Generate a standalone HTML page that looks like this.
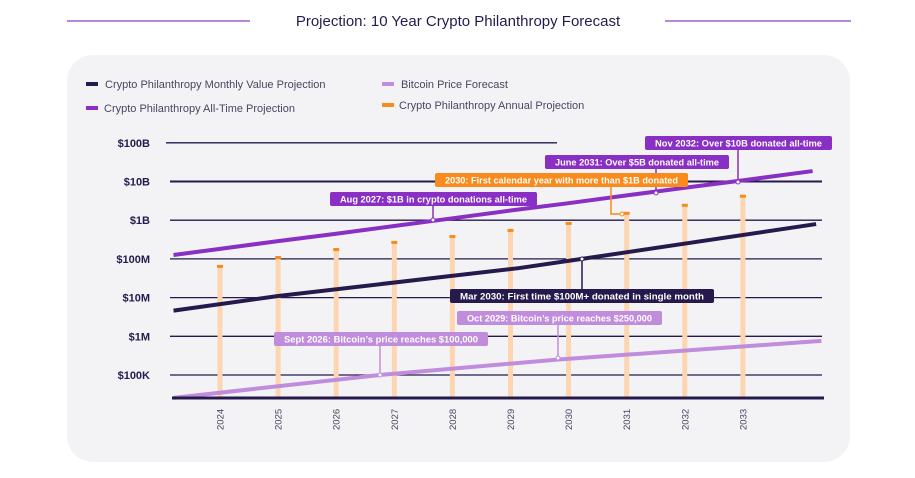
<!DOCTYPE html>
<html><head><meta charset="utf-8"><style>
html,body{margin:0;padding:0;background:#fff;}
svg{display:block;font-family:"Liberation Sans",sans-serif;}
</style></head><body>
<svg id="chart" width="915" height="478" viewBox="0 0 915 478">
<line x1="67" y1="21" x2="250" y2="21" stroke="#8a3fbf" stroke-width="1.3"/>
<line x1="665" y1="21" x2="851" y2="21" stroke="#8a3fbf" stroke-width="1.3"/>
<text x="458" y="26" text-anchor="middle" font-size="15" fill="#261a4c">Projection: 10 Year Crypto Philanthropy Forecast</text>
<rect x="67" y="55" width="783" height="407" rx="26" fill="#f3f3f6"/>
<g font-size="11" fill="#4a4560">
 <g><rect x="86" y="82" width="12" height="4" fill="#261a4c"/><text x="105" y="88">Crypto Philanthropy Monthly Value Projection</text></g>
 <g><rect x="86" y="106" width="12" height="4" fill="#8a2fc4"/><text x="104" y="112">Crypto Philanthropy All-Time Projection</text></g>
 <g><rect x="382" y="82" width="12" height="4" fill="#c08ddc"/><text x="401" y="88">Bitcoin Price Forecast</text></g>
 <g><rect x="382" y="103" width="12" height="4" fill="#f98b1c"/><text x="399" y="109">Crypto Philanthropy Annual Projection</text></g>
</g>
<g id="grid"></g><g id="bars"></g><g id="lines"></g><g id="ann"></g><g id="axes"></g>
</svg>
<script>
const yTickValues=[1e5,1e6,1e7,1e8,1e9,1e10,1e11];
const yTickLabels=["$100K","$1M","$10M","$100M","$1B","$10B","$100B"];
const years=[2024,2025,2026,2027,2028,2029,2030,2031,2032,2033];
const annualValues=[66e6,112e6,180e6,275e6,390e6,560e6,850e6,1.55e9,2.5e9,4.3e9];
const allTimeX=[2023.2,2024,2025,2026,2027,2028,2029,2030,2031,2032,2033,2034.2];
const allTimeValues=[126e6,182e6,288e6,447e6,708e6,1.12e9,1.78e9,2.75e9,4.37e9,6.9e9,10.7e9,18.6e9];
const monthlyX=[2023.2,2025,2029.15,2030.23,2034.26];
const monthlyValues=[4.6e6,11e6,58e6,100e6,794e6];
const btcX=[2023.2,2026.75,2029.8,2034.35];
const btcValues=[25.7e3,100e3,250e3,760e3];

const NS="http://www.w3.org/2000/svg";
const X=y=>220+(y-2024)*58.1;
const Y=v=>375-(Math.log10(v)-5)*38.7;
function mk(tag,at,par){const e=document.createElementNS(NS,tag);for(const k in at)e.setAttribute(k,at[k]);document.getElementById(par).appendChild(e);return e;}

yTickValues.forEach((v,i)=>{
 const top=i===yTickValues.length-1;
 const l=mk('line',{x1:top?166:170,x2:top?557:822,y1:Y(v),y2:Y(v),stroke:'#261a4c','stroke-width':v===1e10?2:1.3},'grid');
 
 
 const t=mk('text',{x:150,y:Y(v)+4,'text-anchor':'end','font-size':11,'font-weight':'bold',fill:'#261a4c'},'axes');
 t.textContent=yTickLabels[i];
 
 
});
const axis=mk('line',{x1:172,x2:824,y1:398,y2:398,stroke:'#261a4c','stroke-width':3},'axes');



years.forEach((yr,i)=>{
 const x=X(yr),top=Y(annualValues[i]);
 const b=mk('rect',{x:x-2.5,y:top,width:5,height:398-top,fill:'#fdd5b1'},'bars');
 
 
 const c=mk('rect',{x:x-3,y:top-1,width:6,height:3,fill:'#f98b1c'},'bars');
 
 
 const t=mk('text',{transform:`translate(${x+3.5},430) rotate(-90)`,'font-size':9.5,fill:'#4a4560'},'axes');
 t.textContent=yr;
 
 
});

function line(xs,vs,color,w,name){
 const p=mk('polyline',{points:xs.map((x,i)=>X(x)+','+Y(vs[i])).join(' '),fill:'none',stroke:color,'stroke-width':w},'lines');
 
 
}
line(btcX,btcValues,'#c08ddc',4,'bitcoin-price-line');
line(monthlyX,monthlyValues,'#261a4c',4,'monthly-value-line');
line(allTimeX,allTimeValues,'#8a2fc4',4,'all-time-line');

const anns=[
 {t:"Nov 2032: Over $10B donated all-time",x1:645,x2:832,y:136,px:738,py:182,c:'#8a2fc4',n:'annotation-nov-2032'},
 {t:"June 2031: Over $5B donated all-time",x1:545,x2:729,y:155,px:656,py:193,c:'#8a2fc4',n:'annotation-june-2031'},
 {t:"2030: First calendar year with more than $1B donated",x1:435,x2:688,y:173,px:611,py:214,c:'#f98b1c',n:'annotation-2030-annual',elbow:622},
 {t:"Aug 2027: $1B in crypto donations all-time",x1:330,x2:537,y:192,px:433,py:220,c:'#8a2fc4',n:'annotation-aug-2027'},
 {t:"Mar 2030: First time $100M+ donated in single month",x1:450,x2:714,y:289,px:582,py:259,c:'#261a4c',n:'annotation-mar-2030'},
 {t:"Oct 2029: Bitcoin\u2019s price reaches $250,000",x1:457,x2:662,y:311,px:558,py:358,c:'#c08ddc',n:'annotation-oct-2029'},
 {t:"Sept 2026: Bitcoin\u2019s price reaches $100,000",x1:274,x2:488,y:332,px:380,py:375,c:'#c08ddc',n:'annotation-sept-2026'}
];
anns.forEach(a=>{
 const g=mk('g',{},'ann');
 
 
 const ys=a.py>a.y?a.y+14:a.y;
 const pts=a.elbow?`${a.px},${ys} ${a.px},${a.py} ${a.elbow},${a.py}`:`${a.px},${ys} ${a.px},${a.py}`;
 const s=document.createElementNS(NS,'polyline');s.setAttribute('points',pts);s.setAttribute('fill','none');s.setAttribute('stroke',a.c);s.setAttribute('stroke-width',1.5);g.appendChild(s);
 const d=document.createElementNS(NS,'circle');d.setAttribute('cx',a.elbow||a.px);d.setAttribute('cy',a.py);d.setAttribute('r',2);d.setAttribute('fill','#fff');d.setAttribute('stroke',a.c);g.appendChild(d);
 const r=document.createElementNS(NS,'rect');r.setAttribute('x',a.x1);r.setAttribute('y',a.y);r.setAttribute('width',a.x2-a.x1);r.setAttribute('height',14);r.setAttribute('rx',2);r.setAttribute('fill',a.c);g.appendChild(r);
 const t=document.createElementNS(NS,'text');t.setAttribute('x',(a.x1+a.x2)/2);t.setAttribute('y',a.y+10.5);t.setAttribute('text-anchor','middle');t.setAttribute('font-size',9.5);t.setAttribute('font-weight','bold');t.setAttribute('fill','#fff');t.setAttribute('textLength',a.x2-a.x1-20);t.setAttribute('lengthAdjust','spacingAndGlyphs');t.textContent=a.t;g.appendChild(t);
});
</script>
</body></html>
